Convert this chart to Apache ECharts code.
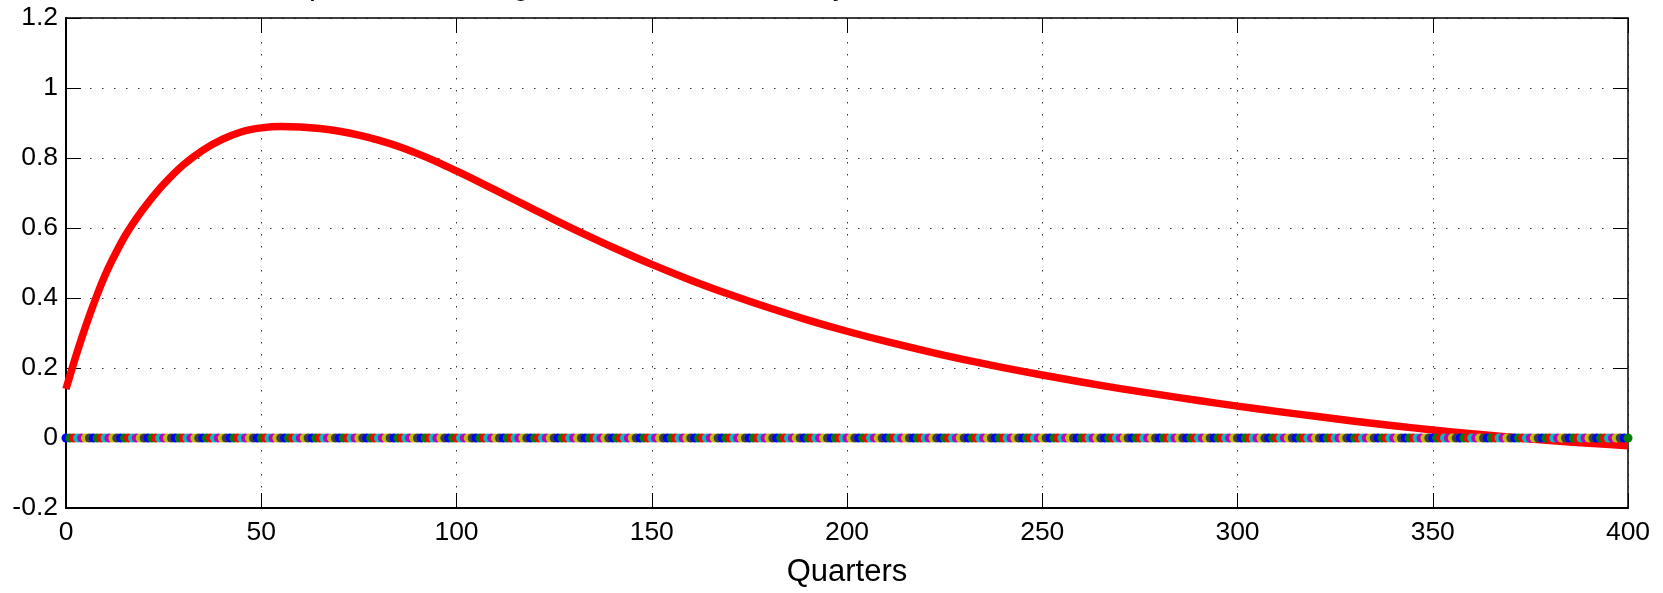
<!DOCTYPE html>
<html>
<head>
<meta charset="utf-8">
<script src="https://cdn.jsdelivr.net/npm/echarts@6/dist/echarts.min.js"></script>
<style>
html,body{margin:0;padding:0;background:#fff;}
#chart{width:1663px;height:593px;}
</style>
</head>
<body>
<div id="chart"></div>
<script>
// ---- data ----
const titleText = 'Output to a housing, with the rule in money';
const xAxisName = 'Quarters';
const xTicks = [0, 50, 100, 150, 200, 250, 300, 350, 400];
const yTicks = [-0.2, 0, 0.2, 0.4, 0.6, 0.8, 1, 1.2];

const redQuarters = [0, 2, 4, 6, 8, 10, 12, 15, 18, 21, 25, 30, 35, 40, 45, 50, 55, 60, 65, 70, 75, 80, 85, 90, 95, 100, 105, 110, 115, 120, 125, 130, 140, 150, 160, 170, 180, 190, 200, 210, 220, 230, 240, 250, 260, 270, 280, 290, 300, 310, 320, 330, 340, 350, 360, 370, 380, 390, 400];
const redValues   = [0.14, 0.215, 0.285, 0.35, 0.41, 0.465, 0.512, 0.575, 0.627, 0.672, 0.725, 0.78, 0.822, 0.853, 0.875, 0.886, 0.89, 0.8885, 0.884, 0.8765, 0.8655, 0.851, 0.8335, 0.8125, 0.789, 0.763, 0.736, 0.708, 0.68, 0.652, 0.624, 0.597, 0.545, 0.496, 0.451, 0.41, 0.372, 0.337, 0.305, 0.276, 0.249, 0.224, 0.201, 0.18, 0.16, 0.141, 0.124, 0.107, 0.091, 0.076, 0.062, 0.048, 0.035, 0.023, 0.012, 0.002, -0.007, -0.015, -0.022];

// zero-valued dotted series, one point per quarter
const zeroFirstQuarter = 0;
const zeroLastQuarter = 400;
const zeroValue = 0;
const dotColors = ['#0000ff', '#008000', '#ff0000', '#00bfbf', '#bf00bf', '#bfbf00', '#404040'];

// ---- build ----
const redData = redQuarters.map((q, i) => [q, redValues[i]]);
const zeroData = [];
for (let q = zeroFirstQuarter; q <= zeroLastQuarter; q++) zeroData.push([q, zeroValue]);

const font = "'Liberation Sans', Arial, Helvetica, sans-serif";
const chart = echarts.init(document.getElementById('chart'), null, {renderer: 'canvas'});

const gridLine = {show: true, lineStyle: {color: '#333', width: 1, type: [1.5, 10.5]}};

chart.setOption({
  animation: false,
  backgroundColor: '#fff',
  title: {
    text: titleText,
    left: 259,
    top: -32,
    padding: 0,
    textStyle: {fontFamily: font, fontSize: 31, fontWeight: 'normal', color: '#000', lineHeight: 34}
  },
  grid: {left: 66, right: 35, top: 18, bottom: 75, containLabel: false},
  xAxis: [{
    type: 'value', min: 0, max: 400, interval: 50,
    name: xAxisName, nameLocation: 'middle', nameGap: 49,
    nameTextStyle: {fontFamily: font, fontSize: 31, color: '#000'},
    axisLine: {show: true, onZero: false, lineStyle: {color: '#000', width: 2}},
    axisTick: {show: true, inside: true, length: 15, lineStyle: {color: '#000', width: 1}},
    axisLabel: {fontFamily: font, fontSize: 26.5, color: '#000', margin: 11,
      formatter: v => xTicks.includes(v) ? String(v) : ''},
    splitLine: gridLine
  }, {
    type: 'value', min: 0, max: 400, interval: 50, position: 'top',
    axisLine: {show: true, onZero: false, lineStyle: {color: '#000', width: 1.5}},
    axisTick: {show: true, inside: true, length: 15, lineStyle: {color: '#000', width: 1}},
    axisLabel: {show: false},
    splitLine: {show: false}
  }],
  yAxis: [{
    type: 'value', min: -0.2, max: 1.2, interval: 0.2,
    axisLine: {show: true, onZero: false, lineStyle: {color: '#000', width: 2}},
    axisTick: {show: true, inside: true, length: 15, lineStyle: {color: '#000', width: 1}},
    axisLabel: {fontFamily: font, fontSize: 26.5, color: '#000', margin: 8,
      formatter: v => {
        const t = yTicks.find(y => Math.abs(y - v) < 1e-9);
        return t === undefined ? '' : String(t);
      }},
    splitLine: gridLine
  }, {
    type: 'value', min: -0.2, max: 1.2, interval: 0.2, position: 'right',
    axisLine: {show: true, onZero: false, lineStyle: {color: '#000', width: 1.5}},
    axisTick: {show: true, inside: true, length: 15, lineStyle: {color: '#000', width: 1}},
    axisLabel: {show: false},
    splitLine: {show: false}
  }],
  series: [{
    type: 'line',
    data: redData,
    smooth: 0.3,
    showSymbol: false,
    lineStyle: {color: '#ff0000', width: 7.5, cap: 'butt', join: 'round'},
    z: 2
  }, {
    type: 'scatter',
    data: zeroData,
    symbol: 'circle',
    symbolSize: 9,
    itemStyle: {color: p => dotColors[p.dataIndex % dotColors.length], opacity: 1},
    z: 3
  }]
});
</script>
</body>
</html>
